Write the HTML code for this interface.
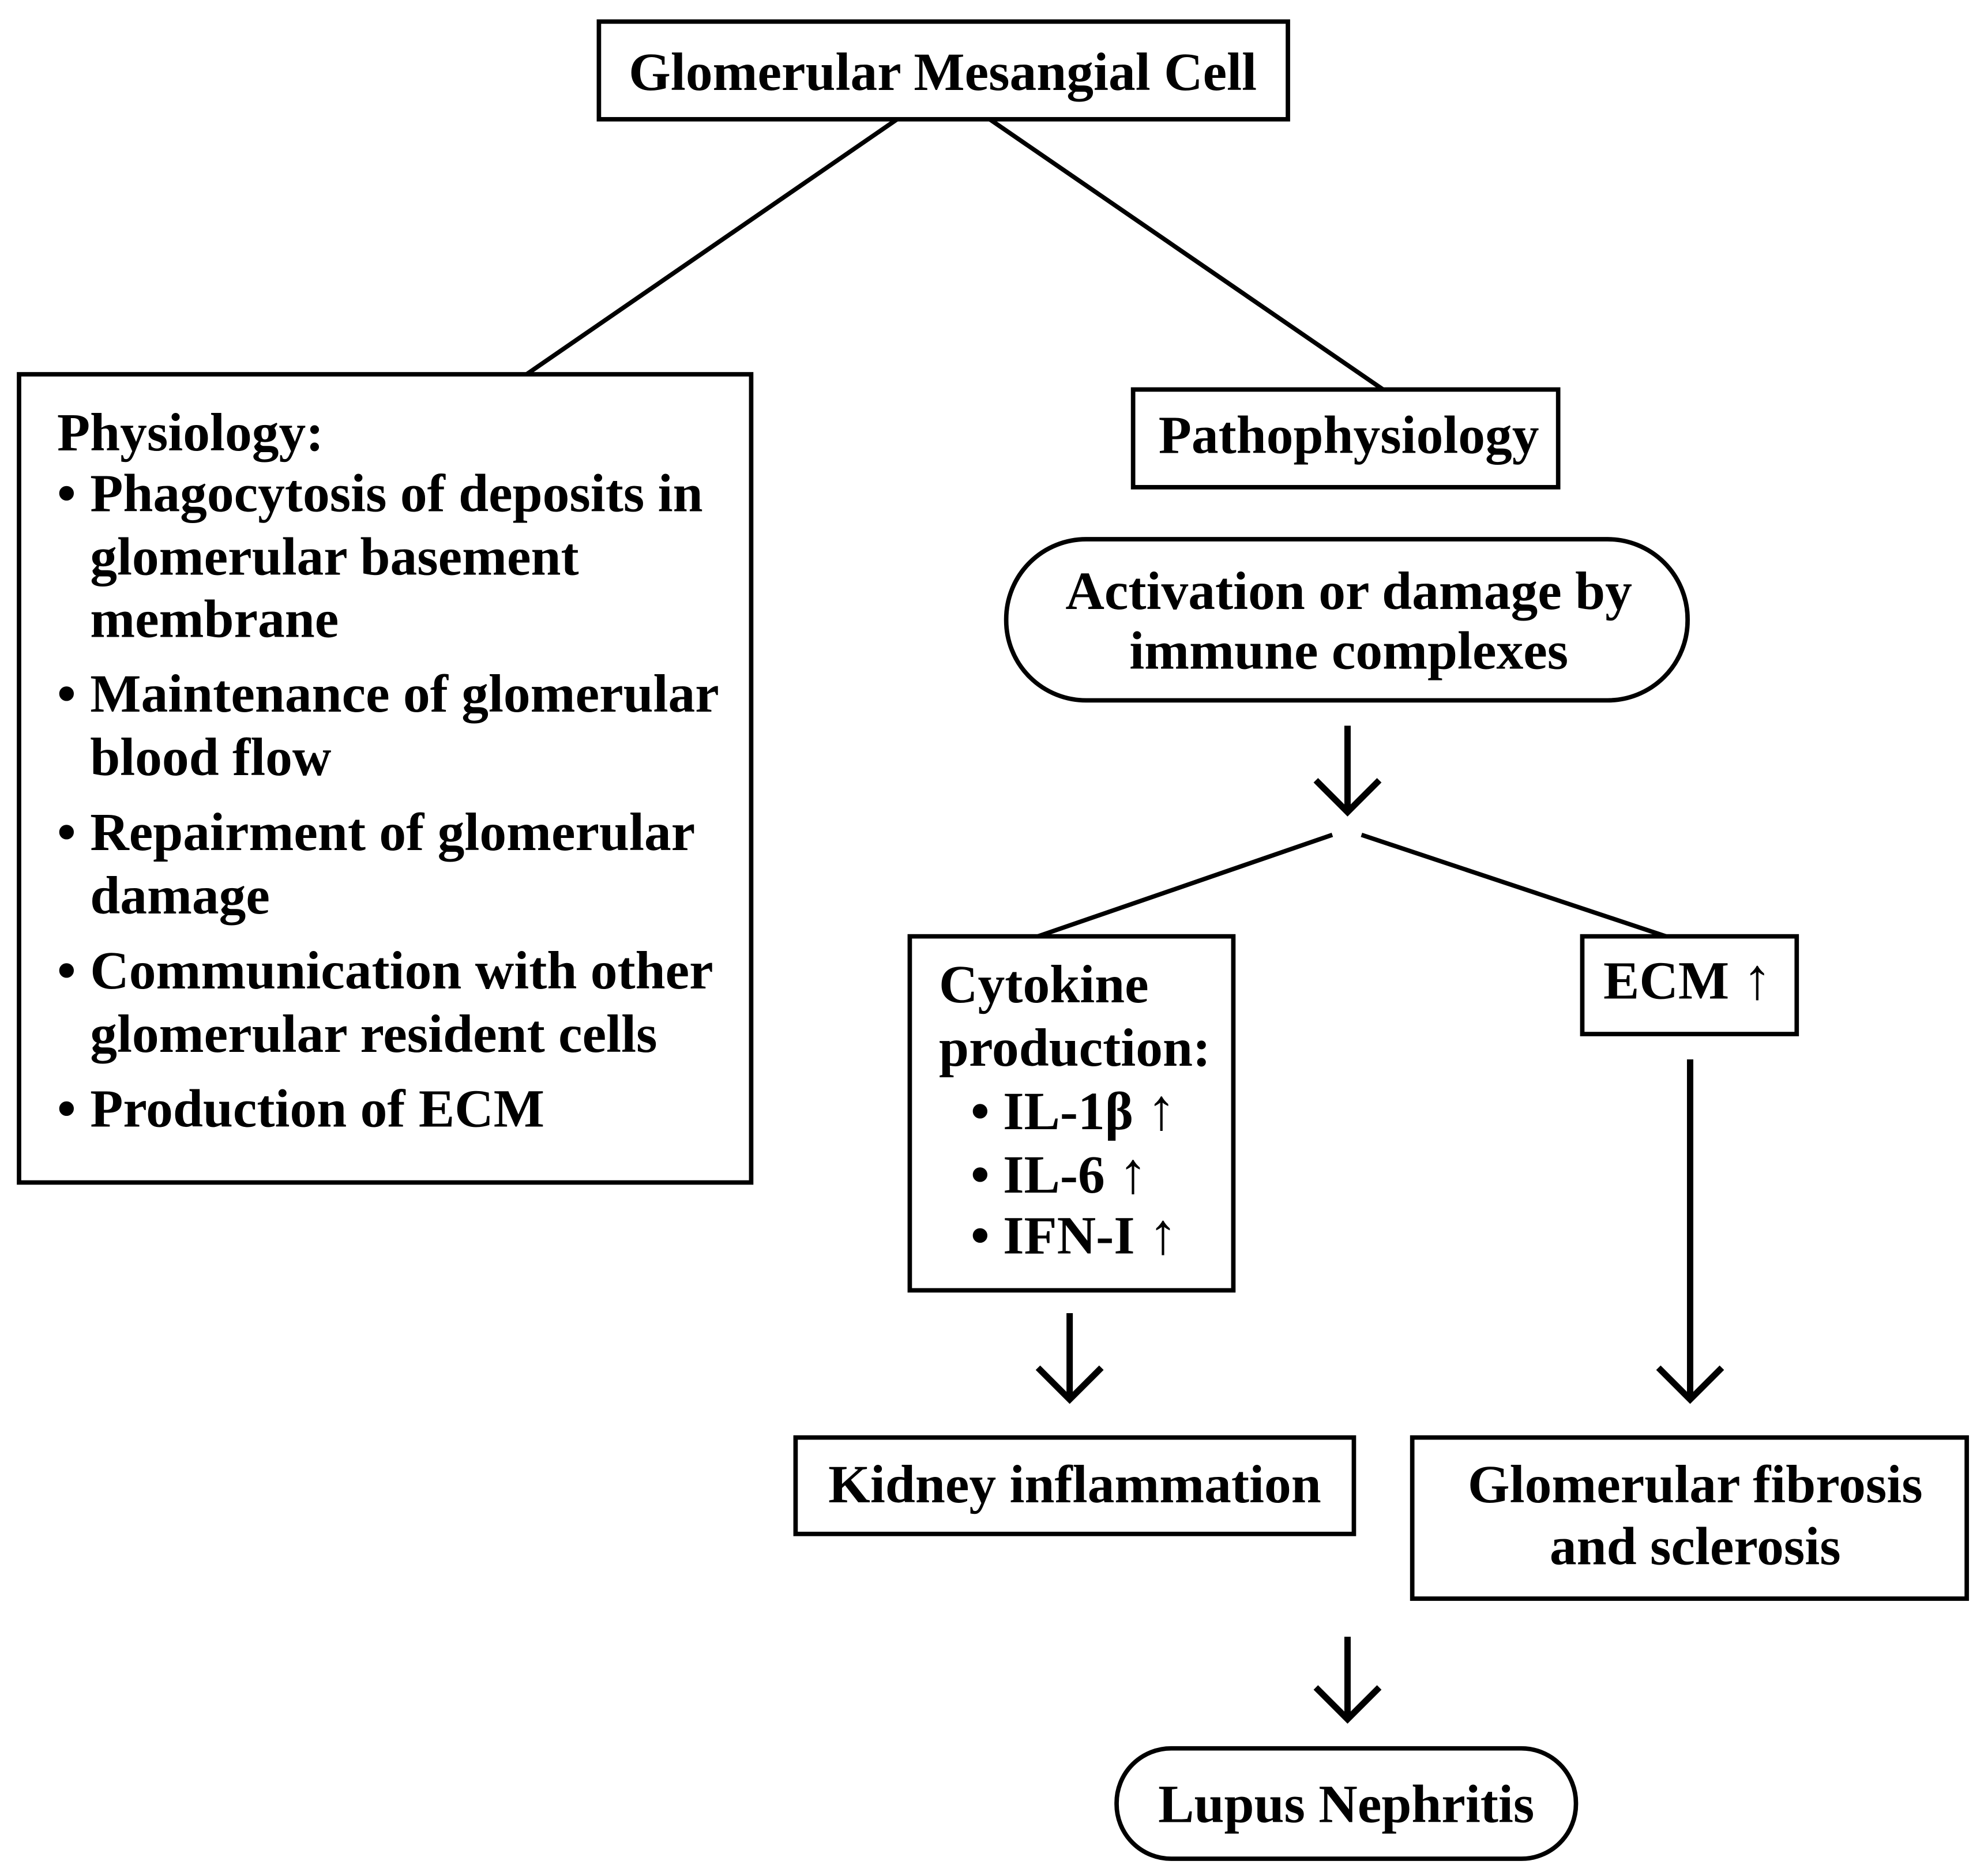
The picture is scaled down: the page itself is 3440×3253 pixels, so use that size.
<!DOCTYPE html>
<html><head><meta charset="utf-8"><style>
html,body{margin:0;padding:0;background:#fff;}
svg{display:block;}
text{font-family:"Liberation Serif",serif;font-weight:bold;font-size:42.5px;fill:#000;}
</style></head><body>
<svg width="3440" height="3253" viewBox="0 0 1563.6 1478.6" xmlns="http://www.w3.org/2000/svg">
<g fill="none" stroke="#000" stroke-width="3.5">
<rect x="472" y="17" width="543" height="77"/>
<line x1="707" y1="94" x2="415" y2="295"/>
<line x1="780" y1="94" x2="1090" y2="307"/>
<rect x="15" y="295" width="577" height="637"/>
<rect x="893" y="307" width="335" height="77"/>
<rect x="793" y="425" width="537" height="127" rx="63"/>
<line x1="1050" y1="658" x2="818" y2="738"/>
<line x1="1073" y1="658" x2="1313" y2="738"/>
<rect x="717" y="738" width="255" height="279"/>
<rect x="1247" y="738" width="169" height="77"/>
<rect x="627" y="1133" width="440" height="76"/>
<rect x="1113" y="1133" width="437" height="127"/>
<rect x="880" y="1378" width="362" height="87" rx="43"/>
</g>
<g fill="none" stroke="#000" stroke-width="5">
<line x1="1062" y1="572" x2="1062" y2="640"/>
<polyline points="1037,615 1062,640 1087,615"/>
<line x1="843" y1="1035" x2="843" y2="1103"/>
<polyline points="818,1078 843,1103 868,1078"/>
<line x1="1332" y1="835" x2="1332" y2="1103"/>
<polyline points="1307,1078 1332,1103 1357,1078"/>
<line x1="1062" y1="1290" x2="1062" y2="1355"/>
<polyline points="1037,1330 1062,1355 1087,1330"/>
</g>
<text x="743" y="71" text-anchor="middle">Glomerular Mesangial Cell</text>
<text x="45" y="355">Physiology:</text>
<text x="45" y="403">•</text><text x="71" y="403">Phagocytosis of deposits in</text>
<text x="71" y="453">glomerular basement</text>
<text x="71" y="502">membrane</text>
<text x="45" y="561">•</text><text x="71" y="561">Maintenance of glomerular</text>
<text x="71" y="611">blood flow</text>
<text x="45" y="670">•</text><text x="71" y="670">Repairment of glomerular</text>
<text x="71" y="720">damage</text>
<text x="45" y="779">•</text><text x="71" y="779">Communication with other</text>
<text x="71" y="829">glomerular resident cells</text>
<text x="45" y="888">•</text><text x="71" y="888">Production of ECM</text>
<text x="1063" y="357" text-anchor="middle">Pathophysiology</text>
<text x="1063" y="480" text-anchor="middle">Activation or damage by</text>
<text x="1063" y="527" text-anchor="middle">immune complexes</text>
<text x="740" y="790">Cytokine</text>
<text x="740" y="840">production:</text>
<text x="765" y="890">• IL-1β <tspan font-weight="normal" font-size="46">↑</tspan></text>
<text x="765" y="940">• IL-6 <tspan font-weight="normal" font-size="46">↑</tspan></text>
<text x="765" y="988">• IFN-I <tspan font-weight="normal" font-size="46">↑</tspan></text>
<text x="1330" y="787" text-anchor="middle">ECM <tspan font-weight="normal" font-size="46">↑</tspan></text>
<text x="847" y="1184" text-anchor="middle">Kidney inflammation</text>
<text x="1336" y="1184" text-anchor="middle">Glomerular fibrosis</text>
<text x="1336" y="1233" text-anchor="middle">and sclerosis</text>
<text x="1061" y="1436" text-anchor="middle">Lupus Nephritis</text>
</svg>
</body></html>
